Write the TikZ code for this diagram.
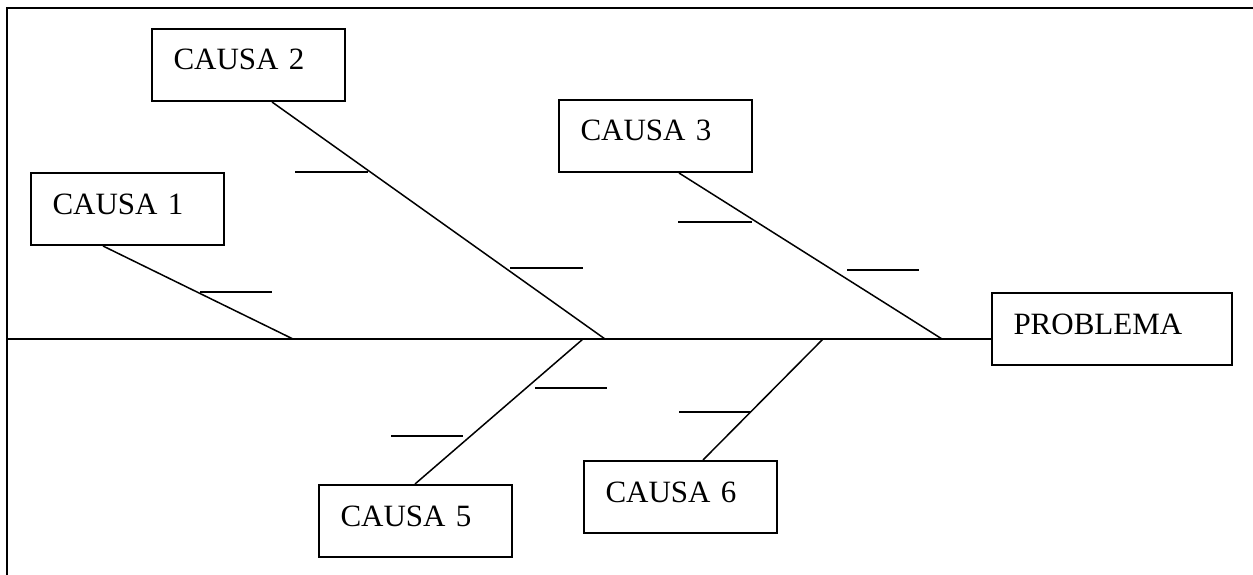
\documentclass[tikz,border=0pt]{standalone}
\usepackage{fontspec}
\setmainfont{Liberation Serif}
\usetikzlibrary{calc}
\tikzset{
  causebox/.style={draw, line width=2pt, anchor=north west, align=left,
    inner xsep=21.5pt, inner ysep=0pt, text width=150pt,
    text height=41pt, text depth=31pt, font=\fontsize{31}{36}\selectfont},
  probbox/.style={causebox, text width=197pt},
  bone/.style={line width=1.5pt},
  tick/.style={line width=1.8pt},
  spine/.style={line width=2pt},
  frame/.style={line width=2.5pt}
}
\begin{document}
\begin{tikzpicture}[x=1pt,y=-1pt]
\useasboundingbox (0,0) rectangle (1253,575);
% open frame: left and top edges only
\draw[frame] (7,575) -- (7,8) -- (1253,8);

% boxes
\node[causebox] (c1) at (30,172) {CAUSA 1};
\node[causebox] (c2) at (151,28) {CAUSA 2};
\node[causebox] (c3) at (558,99) {CAUSA 3};
\node[causebox] (c5) at (318,484) {CAUSA 5};
\node[causebox] (c6) at (583,460) {CAUSA 6};
\node[probbox] (p) at (991,292) {PROBLEMA};

% main spine
\coordinate (sL) at (7,339);
\draw[spine] (sL) -- (sL -| p.west);

% joints of the bones on the spine
\coordinate (j1) at (293,339);
\coordinate (j2) at (605,339);
\coordinate (j3) at (942,339);
\coordinate (j5) at (583,339);
\coordinate (j6) at (823,339);

% bones
\draw[bone] ($(c1.south west)+(73,0)$) -- (j1);
\draw[bone] ($(c2.south west)+(121,0)$) -- (j2);
\draw[bone] ($(c3.south west)+(121,0)$) -- (j3);
\draw[bone] ($(c5.north west)+(97,0)$) -- (j5);
\draw[bone] ($(c6.north west)+(120,0)$) -- (j6);

% small horizontal sub-causes
\draw[tick] (200,292) -- (272,292);
\draw[tick] (295,172) -- (368,172);
\draw[tick] (510,268) -- (583,268);
\draw[tick] (678,222) -- (752,222);
\draw[tick] (847,270) -- (919,270);
\draw[tick] (535,388) -- (607,388);
\draw[tick] (391,436) -- (463,436);
\draw[tick] (679,412) -- (751,412);
\end{tikzpicture}
\end{document}
